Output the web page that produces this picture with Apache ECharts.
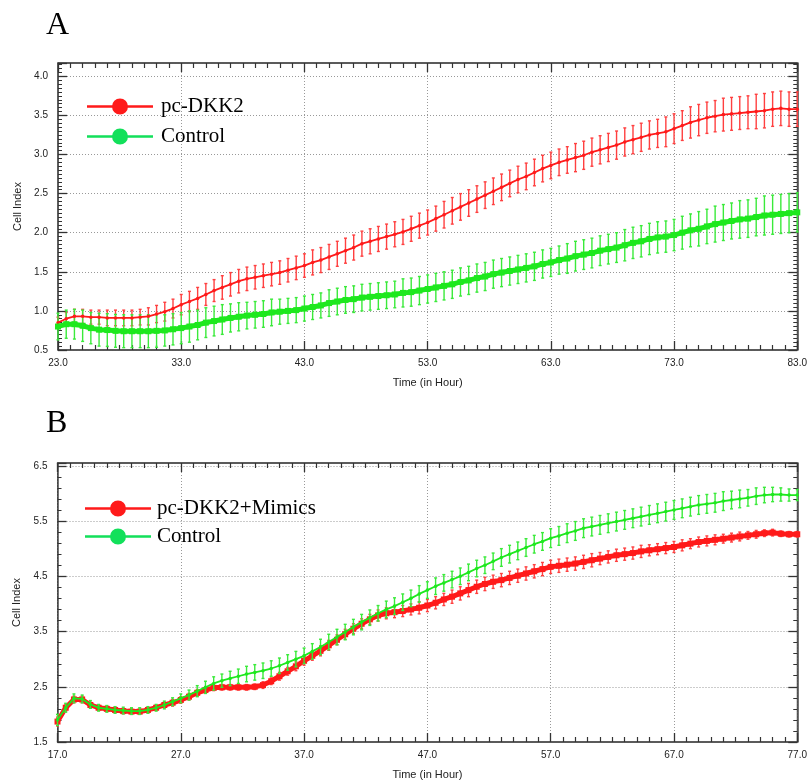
<!DOCTYPE html>
<html>
<head>
<meta charset="utf-8">
<script src="https://cdn.jsdelivr.net/npm/echarts@6/dist/echarts.min.js"></script>
<style>
  html, body { margin: 0; padding: 0; background: #fff; }
  #chart { width: 810px; height: 784px; }
</style>
</head>
<body>
<div id="chart"></div>
<script>
// time grid: one reading every 40 min
const startA = 23, startB = 17, stepH = 2 / 3, nPoints = 91;

const redA = [0.85,0.90,0.93,0.93,0.92,0.92,0.91,0.91,0.91,0.91,
  0.92,0.93,0.96,0.99,1.03,1.08,1.12,1.16,1.21,1.26,
  1.30,1.34,1.38,1.41,1.43,1.45,1.47,1.49,1.52,1.55,
  1.58,1.62,1.65,1.69,1.73,1.77,1.81,1.86,1.89,1.92,
  1.95,1.98,2.01,2.05,2.09,2.13,2.18,2.23,2.28,2.33,
  2.38,2.43,2.48,2.53,2.58,2.63,2.68,2.72,2.77,2.82,
  2.86,2.90,2.93,2.96,2.99,3.03,3.06,3.09,3.12,3.16,
  3.19,3.22,3.25,3.27,3.29,3.33,3.37,3.41,3.44,3.47,
  3.49,3.51,3.52,3.53,3.54,3.55,3.56,3.58,3.59,3.58,
  3.58];
const redAErr = [0.07,0.08,0.09,0.09,0.09,0.09,0.1,0.1,0.1,0.1,
  0.1,0.11,0.11,0.12,0.12,0.13,0.13,0.14,0.14,0.14,
  0.15,0.15,0.15,0.15,0.15,0.15,0.15,0.15,0.15,0.15,
  0.15,0.16,0.16,0.16,0.16,0.16,0.16,0.16,0.16,0.16,
  0.16,0.16,0.16,0.16,0.16,0.16,0.16,0.17,0.17,0.17,
  0.17,0.17,0.17,0.17,0.17,0.17,0.17,0.17,0.17,0.17,
  0.17,0.17,0.17,0.18,0.18,0.18,0.18,0.18,0.18,0.18,
  0.18,0.18,0.18,0.18,0.19,0.19,0.19,0.2,0.2,0.2,
  0.2,0.21,0.21,0.21,0.21,0.22,0.22,0.22,0.22,0.22,
  0.22];
const greenA = [0.80,0.83,0.83,0.81,0.78,0.76,0.755,0.745,0.74,0.74,
  0.74,0.74,0.745,0.75,0.765,0.78,0.80,0.82,0.85,0.87,
  0.89,0.91,0.925,0.94,0.95,0.96,0.98,0.99,1.00,1.01,
  1.03,1.05,1.07,1.10,1.12,1.14,1.15,1.17,1.18,1.19,
  1.20,1.21,1.23,1.24,1.26,1.28,1.30,1.32,1.34,1.37,
  1.39,1.42,1.44,1.47,1.49,1.51,1.53,1.55,1.57,1.60,
  1.62,1.65,1.67,1.70,1.72,1.74,1.77,1.79,1.81,1.84,
  1.87,1.89,1.92,1.94,1.95,1.97,2.00,2.03,2.05,2.08,
  2.11,2.13,2.15,2.17,2.18,2.20,2.22,2.23,2.24,2.25,
  2.26];
const greenAErr = [0.17,0.18,0.19,0.2,0.2,0.21,0.21,0.21,0.21,0.21,
  0.21,0.21,0.21,0.2,0.2,0.2,0.2,0.19,0.19,0.19,
  0.19,0.18,0.18,0.17,0.17,0.17,0.17,0.16,0.16,0.16,
  0.16,0.16,0.16,0.17,0.17,0.17,0.17,0.17,0.17,0.17,
  0.17,0.17,0.18,0.18,0.18,0.18,0.18,0.18,0.18,0.18,
  0.18,0.18,0.18,0.18,0.18,0.18,0.18,0.18,0.18,0.18,
  0.18,0.18,0.19,0.19,0.19,0.19,0.19,0.19,0.19,0.2,
  0.2,0.2,0.2,0.2,0.2,0.2,0.21,0.21,0.22,0.22,
  0.23,0.23,0.23,0.24,0.24,0.24,0.25,0.25,0.25,0.25,
  0.25];

const redB = [1.87,2.12,2.27,2.27,2.17,2.12,2.10,2.08,2.06,2.05,
  2.05,2.08,2.12,2.17,2.21,2.26,2.32,2.39,2.44,2.48,
  2.49,2.49,2.49,2.49,2.50,2.53,2.60,2.69,2.78,2.87,
  2.97,3.06,3.15,3.25,3.35,3.45,3.55,3.64,3.72,3.79,
  3.83,3.85,3.87,3.90,3.93,3.97,4.02,4.08,4.13,4.19,
  4.25,4.31,4.36,4.40,4.43,4.47,4.51,4.55,4.59,4.63,
  4.67,4.69,4.71,4.73,4.76,4.79,4.82,4.85,4.88,4.90,
  4.92,4.95,4.97,4.99,5.01,5.03,5.06,5.09,5.12,5.14,
  5.16,5.18,5.20,5.22,5.24,5.26,5.28,5.29,5.27,5.26,
  5.26];
const redBErr = [0.08,0.06,0.06,0.06,0.05,0.05,0.05,0.05,0.05,0.05,
  0.05,0.05,0.05,0.05,0.06,0.06,0.06,0.06,0.06,0.05,
  0.05,0.05,0.05,0.05,0.05,0.06,0.06,0.07,0.07,0.08,
  0.08,0.08,0.09,0.09,0.09,0.09,0.09,0.09,0.09,0.1,
  0.1,0.1,0.1,0.1,0.11,0.11,0.11,0.11,0.12,0.12,
  0.12,0.12,0.12,0.12,0.12,0.12,0.12,0.12,0.12,0.12,
  0.12,0.12,0.12,0.12,0.12,0.12,0.11,0.11,0.11,0.11,
  0.11,0.11,0.1,0.1,0.1,0.1,0.1,0.09,0.09,0.09,
  0.09,0.08,0.08,0.08,0.07,0.07,0.06,0.06,0.05,0.05,
  0.05];
const greenB = [1.90,2.12,2.29,2.28,2.18,2.12,2.10,2.08,2.07,2.06,
  2.06,2.08,2.12,2.17,2.23,2.29,2.35,2.42,2.49,2.56,
  2.61,2.65,2.69,2.73,2.76,2.79,2.83,2.88,2.94,3.00,
  3.06,3.14,3.22,3.31,3.40,3.49,3.58,3.67,3.75,3.83,
  3.90,3.96,4.03,4.10,4.18,4.25,4.32,4.38,4.44,4.50,
  4.57,4.64,4.70,4.77,4.84,4.90,4.96,5.02,5.08,5.13,
  5.19,5.23,5.28,5.32,5.37,5.40,5.43,5.46,5.49,5.52,
  5.55,5.58,5.61,5.64,5.67,5.70,5.73,5.76,5.79,5.81,
  5.83,5.86,5.88,5.90,5.92,5.95,5.97,5.98,5.98,5.97,
  5.97];
const greenBErr = [0.1,0.08,0.08,0.07,0.07,0.06,0.06,0.06,0.06,0.06,
  0.06,0.06,0.06,0.07,0.07,0.08,0.09,0.1,0.11,0.12,
  0.12,0.13,0.13,0.14,0.14,0.14,0.14,0.14,0.14,0.14,
  0.14,0.14,0.14,0.14,0.14,0.14,0.14,0.14,0.14,0.14,
  0.15,0.15,0.15,0.15,0.15,0.15,0.15,0.15,0.15,0.15,
  0.15,0.15,0.15,0.15,0.16,0.16,0.16,0.16,0.16,0.16,
  0.17,0.17,0.17,0.17,0.17,0.17,0.17,0.17,0.17,0.17,
  0.17,0.17,0.17,0.17,0.17,0.17,0.17,0.17,0.17,0.17,
  0.17,0.17,0.16,0.16,0.15,0.15,0.14,0.13,0.12,0.11,
  0.1];

const legendA = ['pc-DKK2', 'Control'];
const legendB = ['pc-DKK2+Mimics', 'Control'];

const timesA = Array.from({ length: nPoints }, (_, i) => startA + i * stepH);
const timesB = Array.from({ length: nPoints }, (_, i) => startB + i * stepH);

const pairs = (times, vals) => times.map((t, i) => [t, vals[i]]);
const bars = (times, vals, errs) => times.map((t, i) => [t, vals[i] - errs[i], vals[i] + errs[i]]);

const sans = 'Liberation Sans, Arial, sans-serif';
const serif = 'Liberation Serif, Times New Roman, serif';

// legend icon: line with a dot in the middle (66 x 16 box), pieces kept apart so fills don't cancel
const lineDot = 'path://M0,7L26,7L26,9.6L0,9.6Z M40,7L66,7L66,9.6L40,9.6Z M25,8.3A8,8,0,1,1,41,8.3A8,8,0,1,1,25,8.3Z';

function errorBars(color) {
  return function (params, api) {
    const lo = api.coord([api.value(0), api.value(1)]);
    const hi = api.coord([api.value(0), api.value(2)]);
    const style = { stroke: color, lineWidth: 1.4, fill: null };
    return {
      type: 'group',
      children: [
        { type: 'line', shape: { x1: lo[0], y1: lo[1], x2: hi[0], y2: hi[1] }, style: style },
        { type: 'line', shape: { x1: lo[0] - 1.5, y1: lo[1], x2: lo[0] + 1.5, y2: lo[1] }, style: style },
        { type: 'line', shape: { x1: hi[0] - 1.5, y1: hi[1], x2: hi[0] + 1.5, y2: hi[1] }, style: style }
      ]
    };
  };
}

function xAxes(min, gridIndex) {
  const base = {
    type: 'value', gridIndex: gridIndex, min: min, max: min + 60, interval: 10,
    axisLine: { onZero: false, lineStyle: { color: '#444', width: 1.5 } },
    axisTick: { inside: true, length: 9, lineStyle: { color: '#333', width: 1.3 } },
    minorTick: { show: true, splitNumber: 10, length: 5, lineStyle: { color: '#333', width: 1.2 } }
  };
  return [
    Object.assign({}, base, {
      position: 'bottom',
      name: 'Time (in Hour)', nameLocation: 'middle', nameGap: 27,
      nameTextStyle: { fontFamily: sans, fontSize: 11, color: '#222' },
      axisLabel: { fontFamily: sans, fontSize: 10, color: '#222', margin: 8, formatter: v => v.toFixed(1) },
      splitLine: { show: true, lineStyle: { color: '#999', type: [1, 2], width: 1 } }
    }),
    Object.assign({}, base, { position: 'top', axisLabel: { show: false }, splitLine: { show: false } })
  ];
}

function yAxes(min, max, interval, minorSplit, gridIndex) {
  const base = {
    type: 'value', gridIndex: gridIndex, min: min, max: max, interval: interval,
    axisLine: { onZero: false, lineStyle: { color: '#444', width: 1.5 } },
    axisTick: { inside: true, length: 9, lineStyle: { color: '#333', width: 1.3 } },
    minorTick: { show: true, splitNumber: minorSplit, length: 4, lineStyle: { color: '#333', width: 1 } }
  };
  return [
    Object.assign({}, base, {
      position: 'left',
      name: 'Cell Index', nameLocation: 'middle', nameRotate: 90, nameGap: 34,
      nameTextStyle: { fontFamily: sans, fontSize: 11, color: '#222' },
      axisLabel: {
        fontFamily: sans, fontSize: 10, color: '#222', margin: 10,
        formatter: v => (Math.abs(v * 2 - Math.round(v * 2)) < 1e-6 ? v.toFixed(1) : '')
      },
      splitLine: { show: true, lineStyle: { color: '#999', type: [1, 2], width: 1 } }
    }),
    Object.assign({}, base, { position: 'right', axisLabel: { show: false }, splitLine: { show: false } })
  ];
}

function legendItems(names, colors) {
  return names.map((n, i) => ({ name: n, icon: lineDot, itemStyle: { color: colors[i], borderWidth: 0 } }));
}

const option = {
  animation: false,
  backgroundColor: '#fff',
  title: [
    { text: 'A', left: 46, top: 10, padding: 0, textStyle: { fontFamily: serif, fontSize: 32, fontWeight: 'normal', color: '#000' } },
    { text: 'B', left: 46, top: 408, padding: 0, textStyle: { fontFamily: serif, fontSize: 32, fontWeight: 'normal', color: '#000' } }
  ],
  grid: [
    { left: 58, top: 63, width: 750, height: 287, show: true, borderColor: '#444', borderWidth: 1 },
    { left: 57.5, top: 463, width: 748.5, height: 279, show: true, borderColor: '#444', borderWidth: 1 }
  ],
  legend: [
    {
      orient: 'vertical', left: 87, top: 96, padding: 0, itemGap: 9,
      itemWidth: 66, itemHeight: 16, selectedMode: false,
      textStyle: { fontFamily: serif, fontSize: 21, color: '#000', padding: [0, 0, 0, 3] },
      data: legendItems(legendA, ['#ff1a1a', '#12e05a'])
    },
    {
      orient: 'vertical', left: 85, top: 498, padding: 0, itemGap: 7,
      itemWidth: 66, itemHeight: 16, selectedMode: false,
      textStyle: { fontFamily: serif, fontSize: 21, color: '#000', padding: [0, 0, 0, 1] },
      data: legendItems(legendB, ['#ff1a1a', '#12e05a'])
    }
  ],
  xAxis: [].concat(xAxes(startA, 0), xAxes(startB, 1)),
  yAxis: [].concat(yAxes(0.5, 4.17, 0.5, 10, 0), yAxes(1.5, 6.55, 1, 5, 1)),
  series: [
    // panel A
    { type: 'custom', xAxisIndex: 0, yAxisIndex: 0, renderItem: errorBars('#ff4040'), data: bars(timesA, redA, redAErr), z: 2 },
    { type: 'custom', xAxisIndex: 0, yAxisIndex: 0, renderItem: errorBars('#3aea3a'), data: bars(timesA, greenA, greenAErr), z: 2 },
    {
      name: legendA[0], type: 'line', xAxisIndex: 0, yAxisIndex: 0, data: pairs(timesA, redA),
      symbol: 'circle', symbolSize: 3.5, showSymbol: true, color: '#ff1a1a',
      lineStyle: { color: '#ff1a1a', width: 1.8 }, z: 3
    },
    {
      name: legendA[1], type: 'line', xAxisIndex: 0, yAxisIndex: 0, data: pairs(timesA, greenA),
      symbol: 'rect', symbolSize: 6, showSymbol: true, color: '#1ee81e',
      lineStyle: { color: '#1ee81e', width: 5 }, z: 4
    },
    // panel B
    { type: 'custom', xAxisIndex: 2, yAxisIndex: 2, renderItem: errorBars('#ff4040'), data: bars(timesB, redB, redBErr), z: 2 },
    {
      name: legendB[0], type: 'line', xAxisIndex: 2, yAxisIndex: 2, data: pairs(timesB, redB),
      symbol: 'rect', symbolSize: 6, showSymbol: true, color: '#ff1a1a',
      lineStyle: { color: '#ff1a1a', width: 5 }, z: 3
    },
    { type: 'custom', xAxisIndex: 2, yAxisIndex: 2, renderItem: errorBars('#3aea3a'), data: bars(timesB, greenB, greenBErr), z: 4 },
    {
      name: legendB[1], type: 'line', xAxisIndex: 2, yAxisIndex: 2, data: pairs(timesB, greenB),
      symbol: 'circle', symbolSize: 3.5, showSymbol: true, color: '#1ee81e',
      lineStyle: { color: '#1ee81e', width: 1.8 }, z: 5
    }
  ]
};

const chart = echarts.init(document.getElementById('chart'));
chart.setOption(option);
</script>
</body>
</html>
